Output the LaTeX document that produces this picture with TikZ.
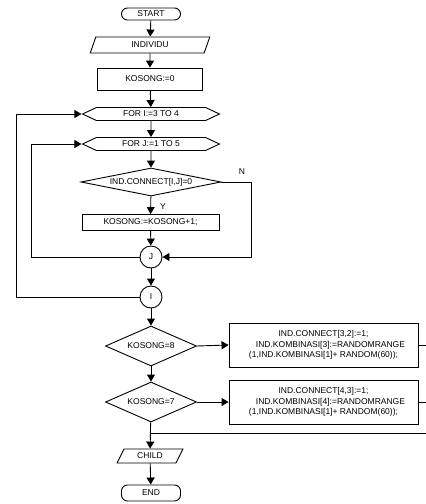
\documentclass[tikz,border=0pt]{standalone}
\usepackage{fontspec}
\setmainfont{Liberation Sans}
\usetikzlibrary{arrows.meta,shapes.geometric,shapes.symbols,positioning}
\begin{document}
\begin{tikzpicture}[x=1pt,y=-1pt,
  every node/.style={font=\fontsize{8.5}{10.7}\selectfont, inner sep=0pt},
  base/.style={draw, line width=0.9pt, fill=white},
  term/.style={base, rectangle, rounded corners=6pt, minimum width=59pt},
  io/.style={base, trapezium, trapezium stretches=true, trapezium left angle=#1, trapezium right angle=180-#1},
  proc/.style={base, rectangle},
  loopbox/.style={base, signal, signal to=west and east, signal pointer angle=50, minimum width=137pt, minimum height=13pt},
  decide/.style={base, diamond},
  conn/.style={base, circle, minimum size=22pt},
  flow/.style={line width=0.9pt, -{Triangle[length=7pt,width=8pt]}},
  line/.style={line width=0.9pt}
]
\useasboundingbox (0,0) rectangle (426,504);

\node[term, minimum height=12pt] (start) at (151,14) {START};
\node[io=72, minimum width=120pt, minimum height=16pt] (indiv) at (150,45) {INDIVIDU};
\node[proc, minimum width=105pt, minimum height=22pt] (k0) at (150,79) {KOSONG:=0};
\node[loopbox] (fori) at (151,114) {FOR I:=3 TO 4};
\node[loopbox] (forj) at (151,144) {FOR J:=1 TO 5};
\node[decide, aspect=5, minimum width=140pt, minimum height=28pt] (dec) at (151,182) {IND.CONNECT[I,J]=0};
\node[proc, minimum width=137pt, minimum height=16pt] (k1) at (150.5,222.5) {KOSONG:=KOSONG+1;};
\node[conn] (J) at (151,257) {J};
\node[conn] (I) at (151,297) {I};
\node[decide, aspect=2.3, minimum width=91pt, minimum height=40pt] (d8) at (151,346) {KOSONG=8};
\node[proc, minimum width=189pt, minimum height=44pt, align=center] (b1) at (323.5,345)
  {IND.CONNECT[3,2]:=1;\\\hspace*{14pt}IND.KOMBINASI[3]:=RANDOMRANGE\\(1,IND.KOMBINASI[1]+ RANDOM(60));};
\node[decide, aspect=2.3, minimum width=91pt, minimum height=40pt] (d7) at (151,402) {KOSONG=7};
\node[proc, minimum width=189pt, minimum height=44pt, align=center] (b2) at (323.5,402)
  {IND.CONNECT[4,3]:=1;\\\hspace*{14pt}IND.KOMBINASI[4]:=RANDOMRANGE\\(1,IND.KOMBINASI[1]+ RANDOM(60));};
\node[io=60, minimum width=66pt, minimum height=14pt] (child) at (150,456) {CHILD};
\node[term, minimum height=16pt] (end) at (151,493) {END};

\node (lN) at (242,172) {N};
\node (lY) at (163,207) {Y};

\coordinate (nr) at (251,182);
\coordinate (jl) at (31,257);
\coordinate (il) at (16,297);
\coordinate (r1) at (428,345);
\coordinate (r2) at (428,402);
\coordinate (mr) at (428,433);
\coordinate (ml) at (151,433);

\draw[flow] (start) -- (indiv);
\draw[flow] (indiv) -- (k0);
\draw[flow] (k0) -- (fori);
\draw[flow] (fori) -- (forj);
\draw[flow] (forj) -- (dec);
\draw[flow] (dec) -- (k1);
\draw[flow] (k1) -- (J);
\draw[flow] (J) -- (I);
\draw[flow] (I) -- (d8);
\draw[flow] (d8) -- (d7);
\draw[flow] (d7) -- (child);
\draw[flow] (child) -- (end);
\draw[flow] (dec.east) -- (nr) |- (J.east);
\draw[flow] (J.west) -- (jl) |- (forj.west);
\draw[flow] (I.west) -- (il) |- (fori.west);
\draw[flow] (d8.east) -- (b1.west);
\draw[flow] (d7.east) -- (b2.west);
\draw[line] (b1.east) -- (r1);
\draw[line] (b2.east) -- (r2);
\draw[line] (mr) -- (ml);
\end{tikzpicture}
\end{document}
